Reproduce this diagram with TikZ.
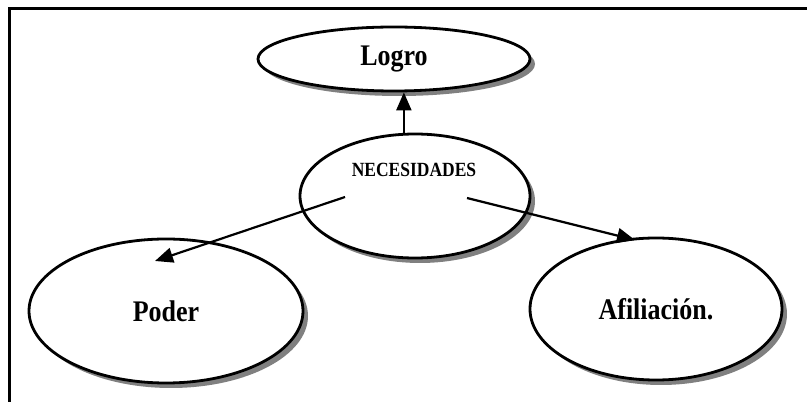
\documentclass[tikz,border=0pt]{standalone}
\usepackage{fontspec}
\setmainfont{Liberation Serif}
\usetikzlibrary{shapes.geometric,arrows.meta,shadows}
\newcommand{\tallbox}[1]{\scalebox{1}[1.15]{#1}}
\begin{document}
\begin{tikzpicture}[x=1pt,y=1pt,
  bub/.style={ellipse, draw=black, line width=2.8pt, fill=white, inner sep=0pt,
    drop shadow={shadow xshift=5pt, shadow yshift=-5pt, fill=black!50, opacity=1},
    font=\bfseries\fontsize{26}{28}\selectfont},
  arr/.style={line width=2.2pt, -{Triangle[length=18pt,width=15pt]}}]
\useasboundingbox (0,0) rectangle (807,402);
\draw[line width=3pt, line join=miter] (9,-5) -- (9,393) -- (812,393);
\node[bub, minimum width=272pt, minimum height=64pt] (logro) at (394,343) {\tallbox{Logro}};
\node[bub, minimum width=230pt, minimum height=124pt] (nec) at (415,206) {};
\node[font=\bfseries\fontsize{17.5}{19}\selectfont, inner sep=0pt] (nectext) at (414,232) {\tallbox{NECESIDADES}};
\node[bub, minimum width=274pt, minimum height=144pt] (poder) at (166,91) {\tallbox{Poder}};
\node[bub, minimum width=252pt, minimum height=142pt] (afil) at (656,93) {\tallbox{Afiliación.}};
\coordinate (s1) at ([shift={(-70,-1)}]nec.center);
\coordinate (t1) at ([shift={(-11,50)}]poder.center);
\coordinate (s2) at ([shift={(52,-2)}]nec.center);
\coordinate (t2) at ([shift={(-21,69)}]afil.center);
\draw[arr] (nec.100) -- (nec.100 |- logro.south);
\draw[arr] (s1) -- (t1);
\draw[arr] (s2) -- (t2);
\end{tikzpicture}
\end{document}
